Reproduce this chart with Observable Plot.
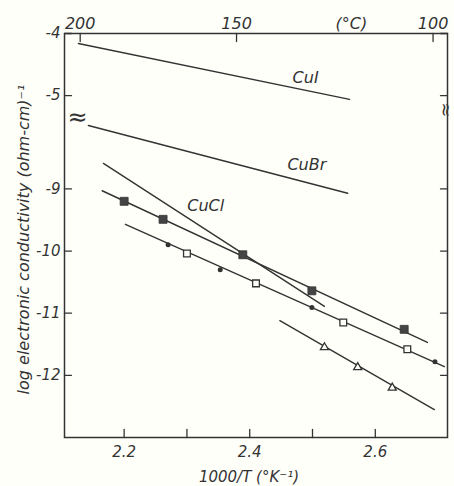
<!DOCTYPE html>
<html>
<head>
<meta charset="utf-8">
<script src="https://cdn.jsdelivr.net/npm/d3@7"></script>
<script src="https://cdn.jsdelivr.net/npm/@observablehq/plot@0.6"></script>
<style>
  html, body { margin: 0; padding: 0; background: #fffffa; }
  svg { display: block; }
</style>
</head>
<body>
<div id="chart"></div>
<script>
// ---- axis definitions (y positions on the broken axis; upper part shifted by 2.5 decades) ----
const xDomain = [2.105, 2.715];
const yDomain = [-13, -6.5];
const yTickPos = [-6.5, -7.5, -9, -10, -11, -12];
const yTickLabels = ["-4", "-5", "-9", "-10", "-11", "-12"];
const xTicks = [2.2, 2.3, 2.4, 2.5, 2.6];
const xLabelTicks = [2.2, 2.4, 2.6];
const tempTickPos = [2.130, 2.379, 2.692];
const tempTickLabels = ["200", "150", "100"];
const breakPos = [-7.85];

// ---- series (x = 1000/T, y = axis position) ----
const cuiX = [2.127, 2.559];
const cuiY = [-6.66, -7.56];
const cubrX = [2.143, 2.556];
const cubrY = [-7.98, -9.07];
const cuclX = [2.167, 2.519];
const cuclY = [-8.59, -10.89];
const sqLineX = [2.165, 2.683];
const sqLineY = [-9.03, -11.47];
const openLineX = [2.202, 2.710];
const openLineY = [-9.57, -11.86];
const triLineX = [2.448, 2.694];
const triLineY = [-11.12, -12.55];

const filledSqX = [2.200, 2.262, 2.389, 2.499, 2.646];
const filledSqY = [-9.20, -9.49, -10.06, -10.64, -11.26];
const openSqX = [2.300, 2.410, 2.549, 2.651];
const openSqY = [-10.04, -10.52, -11.15, -11.58];
const dotX = [2.270, 2.353, 2.499, 2.695];
const dotY = [-9.90, -10.30, -10.91, -11.78];
const triX = [2.519, 2.572, 2.627];
const triY = [-11.55, -11.87, -12.20];

const seriesNames = ["CuI", "CuBr", "CuCl"];
const seriesLabelX = [2.489, 2.491, 2.330];
const seriesLabelY = [-7.21, -8.62, -9.27];

// ---- build tables ----
const lineSets = [
  ["CuI", cuiX, cuiY], ["CuBr", cubrX, cubrY], ["CuCl", cuclX, cuclY],
  ["sq", sqLineX, sqLineY], ["open", openLineX, openLineY], ["tri", triLineX, triLineY]
];
const lines = lineSets.flatMap(([s, xs, ys]) => xs.map((x, i) => ({s, x, y: ys[i]})));
const pts = (xs, ys) => xs.map((x, i) => ({x, y: ys[i]}));
const labels = seriesNames.map((n, i) => ({n, x: seriesLabelX[i], y: seriesLabelY[i]}));
const yLab = new Map(yTickPos.map((p, i) => [p, yTickLabels[i]]));
const tLab = new Map(tempTickPos.map((p, i) => [p, tempTickLabels[i]]));

const ink = "#333";
// simple straight tick shape for vector marks
const tickShape = {draw(ctx, l) { ctx.moveTo(0, 0); ctx.lineTo(0, -l); }};
const tickOpts = {length: 8, anchor: "start", shape: tickShape, stroke: ink, strokeWidth: 1.3};

const chart = Plot.plot({
  width: 454,
  height: 486,
  marginLeft: 64,
  marginRight: 7,
  marginTop: 33,
  marginBottom: 49,
  x: {domain: xDomain},
  y: {domain: yDomain},
  style: {fontFamily: "DejaVu Sans", fontStyle: "italic", fontSize: "15px", color: ink, background: "#fffffa"},
  marks: [
    Plot.frame({stroke: ink, strokeWidth: 1.5}),
    // inward ticks
    Plot.vector(xTicks, {x: d => d, frameAnchor: "bottom", rotate: 0, ...tickOpts}),
    Plot.vector(tempTickPos, {x: d => d, frameAnchor: "top", rotate: 180, ...tickOpts}),
    Plot.vector(yTickPos, {y: d => d, frameAnchor: "left", rotate: 90, ...tickOpts, length: 7}),
    Plot.vector(yTickPos, {y: d => d, frameAnchor: "right", rotate: -90, ...tickOpts, length: 7}),
    // tick labels
    Plot.axisX({anchor: "bottom", ticks: xLabelTicks, tickSize: 0, tickPadding: 9, tickFormat: d => d.toFixed(1), label: null, fill: ink, fontSize: 15}),
    Plot.axisX({anchor: "top", ticks: tempTickPos, tickSize: 0, tickPadding: 5, tickFormat: d => tLab.get(d), label: null, fill: ink, fontSize: 16}),
    Plot.text(["(°C)"], {x: () => 2.562, frameAnchor: "top", lineAnchor: "bottom", dy: -5, fill: ink, fontSize: 16}),
    Plot.axisY({anchor: "left", ticks: yTickPos, tickSize: 0, tickPadding: 4, tickFormat: d => yLab.get(d), label: null, fill: ink, fontSize: 15}),
    // axis breaks
    Plot.text(breakPos, {y: d => d, frameAnchor: "left", dx: 3, text: () => "≈", fontSize: 24, fill: ink, fontStyle: "normal"}),
    Plot.text(breakPos, {y: d => d, frameAnchor: "right", dx: -2, rotate: 90, text: () => "≈", fontSize: 18, fill: ink, fontStyle: "normal"}),
    // axis titles
    Plot.text(["log electronic conductivity (ohm-cm)⁻¹"], {frameAnchor: "left", textAnchor: "middle", lineAnchor: "middle", dx: -41, dy: 4, rotate: -90, fill: ink, fontSize: 16, letterSpacing: "1.4px"}),
    Plot.text(["1000/T (°K⁻¹)"], {frameAnchor: "bottom", textAnchor: "middle", lineAnchor: "middle", dx: -7, dy: 40, fill: ink, fontSize: 15}),
    // lines
    Plot.line(lines, {x: "x", y: "y", z: "s", stroke: ink, strokeWidth: 1.4}),
    // markers
    Plot.dot(pts(filledSqX, filledSqY), {x: "x", y: "y", symbol: "square", r: 4.5, fill: "#444", stroke: ink, strokeWidth: 0.8}),
    Plot.dot(pts(openSqX, openSqY), {x: "x", y: "y", symbol: "square", r: 3.8, fill: "#fffffa", stroke: ink, strokeWidth: 1.3}),
    Plot.dot(pts(dotX, dotY), {x: "x", y: "y", r: 2.5, fill: ink}),
    Plot.dot(pts(triX, triY), {x: "x", y: "y", symbol: "triangle", r: 3, fill: "#fffffa", stroke: ink, strokeWidth: 1.3}),
    // series labels
    Plot.text(labels, {x: "x", y: "y", text: "n", fill: ink, fontSize: 16})
  ]
});
document.getElementById("chart").appendChild(chart);
</script>
</body>
</html>
